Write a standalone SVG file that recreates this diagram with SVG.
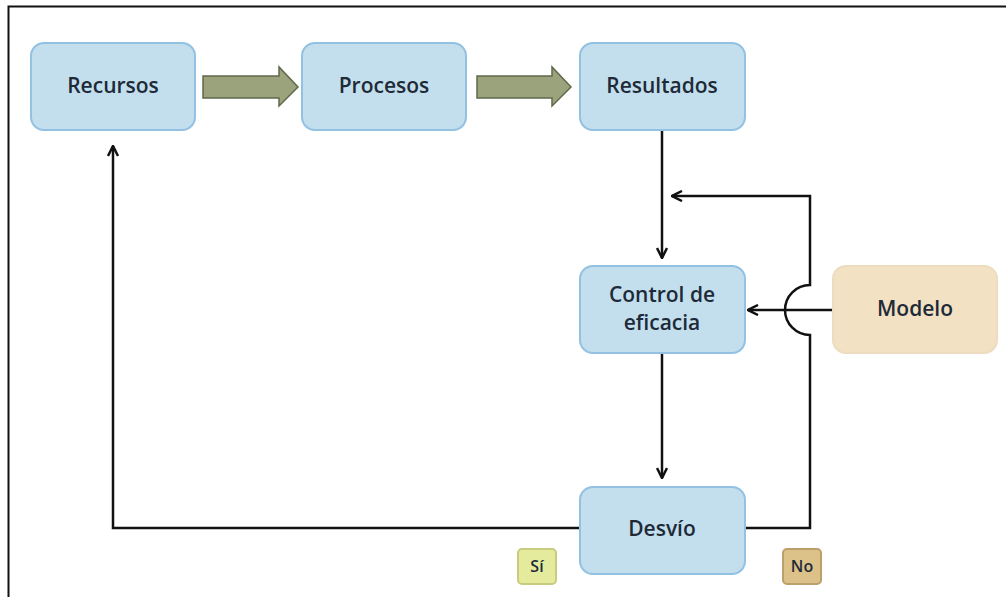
<svg xmlns="http://www.w3.org/2000/svg" width="1006" height="597" viewBox="0 0 1006 597">
  <defs>
    <style>
      .box { fill: #c3dfee; stroke: #92c1e2; stroke-width: 2; }
      .model { fill: #f2e1c2; stroke: #eddcbf; stroke-width: 2; }
      .label { font-family: "Open Sans", "Noto Sans", sans-serif; font-size: 21px; font-weight: 600; fill: #1e2a38; text-anchor: middle; }
      .tag { font-family: "Open Sans", "Noto Sans", sans-serif; font-size: 16px; font-weight: 600; fill: #1e2a38; text-anchor: middle; }
      .flow { fill: none; stroke: #111; stroke-width: 2.5; }
      .fat { fill: #9aa37b; stroke: #5f6a4c; stroke-width: 1.5; }
    </style>
    <marker id="arrow" viewBox="0 0 10 10" refX="9" refY="5" markerWidth="5" markerHeight="5" markerUnits="strokeWidth" orient="auto">
      <path d="M1,1 L9,5 L1,9" fill="none" stroke="#111" stroke-width="2"/>
    </marker>
  </defs>

  <rect x="0" y="0" width="1006" height="597" fill="#fff"/>
  <!-- outer frame -->
  <rect x="8.5" y="6.5" width="1000" height="600" fill="none" stroke="#111" stroke-width="2"/>

  <g id="connectors">
    <!-- wide flow arrows -->
    <path class="fat" d="M203,76 H279 V67 L298,87 L279,106 V98 H203 Z"/>
    <path class="fat" d="M477,76 H552 V67 L571,87 L552,106 V98 H477 Z"/>
    <!-- Resultados to Control -->
    <path class="flow" d="M662,131 V258" marker-end="url(#arrow)"/>
    <!-- No loop back to the results line -->
    <path class="flow" d="M746,528 H810 V335 A25,25 0 0 1 810,285 V196 H672" marker-end="url(#arrow)"/>
    <!-- Modelo to Control -->
    <path class="flow" d="M833,310 H748" marker-end="url(#arrow)"/>
    <!-- Control to Desvío -->
    <path class="flow" d="M662,354 V478" marker-end="url(#arrow)"/>
    <!-- Sí loop back to Recursos -->
    <path class="flow" d="M580,528 H113 V146" marker-end="url(#arrow)"/>
  </g>

  <g id="recursos">
    <rect class="box" x="31" y="43" width="164" height="87" rx="13"/>
    <text class="label" x="113" y="93">Recursos</text>
  </g>
  <g id="procesos">
    <rect class="box" x="302" y="43" width="164" height="87" rx="13"/>
    <text class="label" x="384" y="93">Procesos</text>
  </g>
  <g id="resultados">
    <rect class="box" x="580" y="43" width="165" height="87" rx="13"/>
    <text class="label" x="662" y="93">Resultados</text>
  </g>
  <g id="control">
    <rect class="box" x="580" y="266" width="165" height="87" rx="13"/>
    <text class="label" x="662" y="302">Control de</text>
    <text class="label" x="662" y="330">eficacia</text>
  </g>
  <g id="modelo">
    <rect class="model" x="833" y="266" width="164" height="87" rx="13"/>
    <text class="label" x="915" y="316">Modelo</text>
  </g>
  <g id="desvio">
    <rect class="box" x="580" y="487" width="165" height="87" rx="13"/>
    <text class="label" x="662" y="536">Desvío</text>
  </g>
  <g id="si">
    <rect x="518" y="549" width="38" height="35" rx="4" fill="#e5eb9c" stroke="#c9cb7e" stroke-width="2"/>
    <text class="tag" x="537" y="572">Sí</text>
  </g>
  <g id="no">
    <rect x="783" y="549" width="38" height="35" rx="4" fill="#dcc189" stroke="#bba06c" stroke-width="2"/>
    <text class="tag" x="802" y="572">No</text>
  </g>
</svg>
